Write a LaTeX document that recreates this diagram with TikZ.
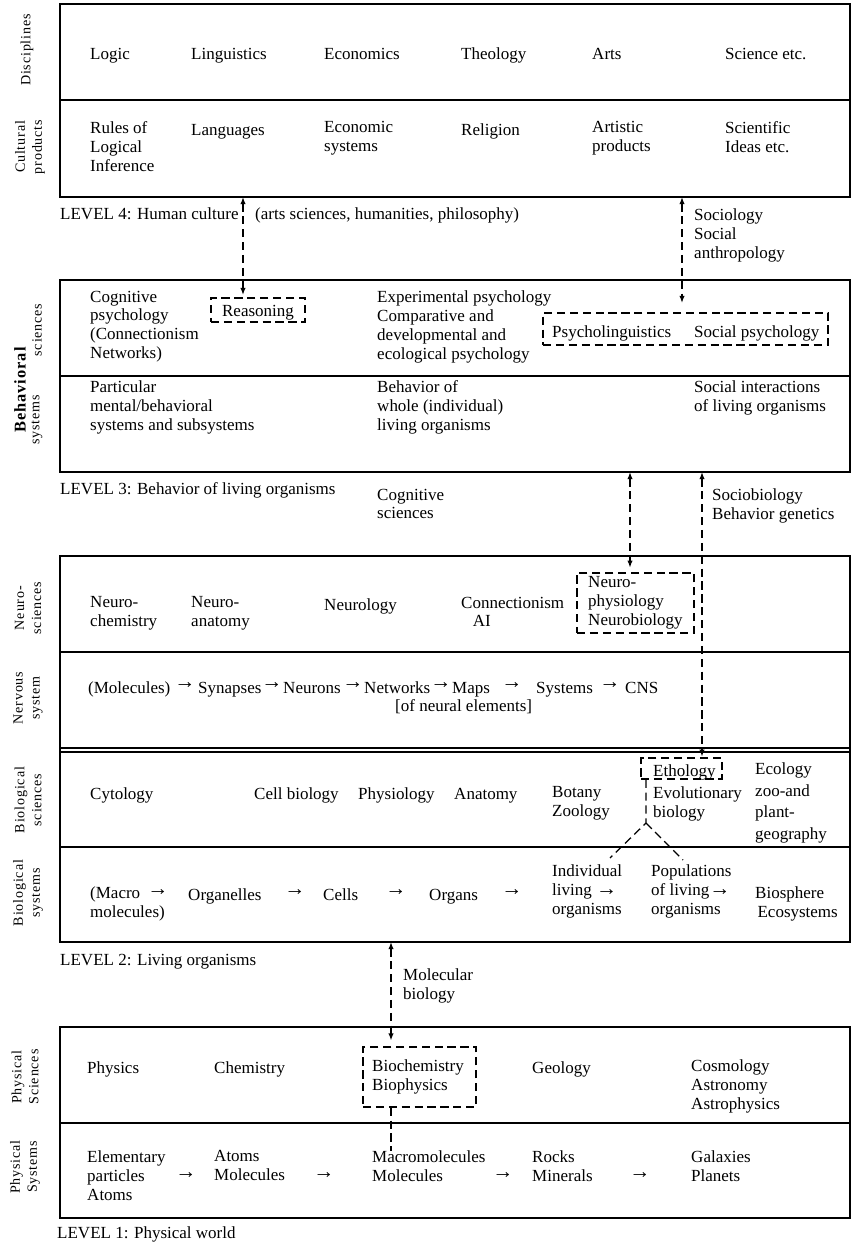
\documentclass[tikz,border=0pt]{standalone}
\usepackage{fontspec}
\setmainfont{Liberation Serif}
\newfontfamily\sidefont[LetterSpace=6]{Liberation Serif}
\usetikzlibrary{arrows.meta,fit}

\newcommand{\rarr}{{\fontsize{18}{16.2}\selectfont →}}

\tikzset{
  txt/.style={anchor=north west, align=left, inner sep=0pt, font=\fontsize{14.5}{16.2}\selectfont,
    execute at begin node={\strut}, yshift=9.8pt},
  side/.style={rotate=90, align=center, inner sep=0pt, font=\sidefont\fontsize{12}{14.5}\selectfont},
  arr/.style={inner sep=0pt, font=\fontsize{18}{16.2}\selectfont},
  frame/.style={line width=1.4pt},
  rule/.style={line width=1.2pt},
  dbox/.style={draw, dash pattern=on 7pt off 4pt, line width=1.1pt, inner sep=0pt},
  link/.style={dash pattern=on 7pt off 4pt, line width=1.1pt, {Latex[length=6pt,width=4.5pt]}-{Latex[length=6pt,width=4.5pt]}},
  dline/.style={dash pattern=on 7pt off 4pt, line width=1.1pt}
}

\begin{document}
\begin{tikzpicture}[x=0.03cm, y=-0.03cm]
	\useasboundingbox (0,0) rectangle (852,1242);
	
	% LEVEL 4
	\draw[frame] (60,4) rectangle (850,197);
	\draw[rule] (60,100) -- (850,100);
	\node[side] (disc) at (27,50) {Disciplines};
	\node[side] (cult) at (30,147) {Cultural\\products};
	\node[txt] (logic) at (90,57) {Logic};
	\node[txt] (ling) at (191,57) {Linguistics};
	\node[txt] (econ) at (324,57) {Economics};
	\node[txt] (theo) at (461,57) {Theology};
	\node[txt] (arts) at (592,57) {Arts};
	\node[txt] (sci) at (725,57) {Science etc.};
	\node[txt] (rules) at (90,133) {Rules of\\Logical\\Inference};
	\node[txt] (lang) at (191,133) {Languages};
	\node[txt] (ecsys) at (324,133) {Economic\\systems};
	\node[txt] (relig) at (461,133) {Religion};
	\node[txt] (artp) at (592,133) {Artistic\\products};
	\node[txt] (scid) at (725,133) {Scientific\\Ideas etc.};
	\node[txt] (lev4) at (60,217) {LEVEL 4: Human culture};
	\node[txt] (hum) at (255,217) {(arts sciences, humanities, philosophy)};
	\node[txt] (socio) at (694,220) {Sociology\\Social\\anthropology};
	
	% LEVEL 3
	\draw[frame] (60,280) rectangle (850,472);
	\draw[rule] (60,376) -- (850,376);
	\node[side, font=\sidefont\bfseries\fontsize{14}{14.5}\selectfont] (beh) at (20,390) {Behavioral};
	\node[side] (bsci) at (37,330) {sciences};
	\node[side] (bsys) at (37,420) {systems};
	\node[txt] (cogp) at (90,302) {Cognitive\\psychology\\(Connectionism\\Networks)};
	\node[txt, anchor=north] (reast) at (258,314) {Reasoning};
	\node[dbox, fit={(211,298) (305,322)}] (reas) {};
	\node[txt] (expp) at (377,302) {Experimental psychology\\Comparative and\\developmental and\\ecological psychology};
	\node[txt] (pling) at (552,335) {Psycholinguistics};
	\node[txt] (socp) at (694,335) {Social psychology};
	\node[dbox, fit={(543,313) (828,345)}] (psy) {};
	\node[txt] (partic) at (90,392) {Particular\\mental/behavioral\\systems and subsystems};
	\node[txt] (whole) at (377,392) {Behavior of\\whole (individual)\\living organisms};
	\node[txt] (socint) at (694,392) {Social interactions\\of living organisms};
	\node[txt] (lev3) at (60,492) {LEVEL 3: Behavior of living organisms};
	\node[txt] (cogs) at (377,500) {Cognitive\\sciences};
	\node[txt] (sbio) at (712,500) {Sociobiology\\Behavior genetics};
	
	% LEVEL 2
	\draw[frame] (60,556) rectangle (850,942);
	\draw[rule] (60,652) -- (850,652);
	\draw[rule] (60,748) -- (850,748);
	\draw[rule] (60,752) -- (850,752);
	\draw[rule] (60,847) -- (850,847);
	\node[side] (neus) at (28,608) {Neuro-\\sciences};
	\node[side] (nerv) at (28,698) {Nervous\\system};
	\node[side] (bios) at (28,800) {Biological\\sciences};
	\node[side] (bisy) at (28,893) {Biological\\systems};
	% neurosciences
	\node[txt] (nchem) at (90,608) {Neuro-\\chemistry};
	\node[txt] (nanat) at (191,608) {Neuro-\\anatomy};
	\node[txt] (nlog) at (324,608) {Neurology};
	\node[txt] (conn) at (461,608) {Connectionism\\\hspace*{10pt}AI};
	\node[txt] (nphys) at (588,588) {Neuro-\\physiology\\Neurobiology};
	\node[dbox, fit={(577,573) (694,633)}] (neu) {};
	% nervous system
	\node[txt] (mol) at (88,691) {(Molecules)};
	\node[arr] (n1) at (185,686) {→};
	\node[txt] (syn) at (198,691) {Synapses};
	\node[arr] (n2) at (272,686) {→};
	\node[txt] (neur) at (283,691) {Neurons};
	\node[arr] (n3) at (353,686) {→};
	\node[txt] (netw) at (364,691) {Networks};
	\node[arr] (n4) at (441,686) {→};
	\node[txt] (maps) at (452,691) {Maps};
	\node[arr] (n5) at (512,686) {→};
	\node[txt] (syst) at (536,691) {Systems};
	\node[arr] (n6) at (610,686) {→};
	\node[txt] (cns) at (625,691) {CNS};
	\node[txt] (neuel) at (395,709) {[of neural elements]};
	% biological sciences
	\node[txt] (cyto) at (90,797) {Cytology};
	\node[txt] (cellb) at (254,797) {Cell biology};
	\node[txt] (physl) at (358,797) {Physiology};
	\node[txt] (anat) at (454,797) {Anatomy};
	\node[txt] (botz) at (552,798) {Botany\\Zoology};
	\node[txt] (etht) at (653,774) {Ethology};
	\node[dbox, fit={(641,758) (722,779)}] (eth) {};
	\node[txt] (evol) at (653,798) {Evolutionary\\biology};
	\node[txt, font=\fontsize{14.5}{18.5}\selectfont] (ecol) at (755,774) {Ecology\\zoo-and\\plant-\\geography};
	% biological systems
	\node[txt] (macm) at (90,898) {(Macro\\molecules)};
	\node[arr] (b1) at (158,893) {→};
	\node[txt] (orgl) at (188,898) {Organelles};
	\node[arr] (b2) at (295,893) {→};
	\node[txt] (cells) at (323,898) {Cells};
	\node[arr] (b3) at (396,893) {→};
	\node[txt] (organs) at (429,898) {Organs};
	\node[arr] (b4) at (512,893) {→};
	\node[txt] (indiv) at (552,876) {Individual\\living \rarr\\organisms};
	\node[txt] (popul) at (651,876) {Populations\\of living\rarr\\organisms};
	\node[txt] (biosph) at (755,898) {Biosphere\\\hspace*{2pt}Ecosystems};
	\node[txt] (lev2) at (60,963) {LEVEL 2: Living organisms};
	\node[txt] (molb) at (403,980) {Molecular\\biology};
	
	% LEVEL 1
	\draw[frame] (60,1027) rectangle (850,1218);
	\draw[rule] (60,1123) -- (850,1123);
	\node[side] (phsc) at (25,1077) {Physical\\Sciences};
	\node[side] (phsy) at (25,1167) {Physical\\Systems};
	\node[txt] (phys) at (87,1071) {Physics};
	\node[txt] (chem) at (214,1071) {Chemistry};
	\node[txt] (bioct) at (372,1071) {Biochemistry\\Biophysics};
	\node[dbox, fit={(363,1047) (476,1107)}] (bioc) {};
	\node[txt] (geol) at (532,1071) {Geology};
	\node[txt] (cosm) at (691,1071) {Cosmology\\Astronomy\\Astrophysics};
	\node[txt] (elem) at (87,1162) {Elementary\\particles\\Atoms};
	\node[arr] (p1) at (186,1175) {→};
	\node[txt] (atom) at (214,1162) {Atoms\\Molecules};
	\node[arr] (p2) at (324,1175) {→};
	\node[txt] (macro) at (372,1162) {Macromolecules\\Molecules};
	\node[arr] (p3) at (503,1175) {→};
	\node[txt] (rock) at (532,1162) {Rocks\\Minerals};
	\node[arr] (p4) at (640,1175) {→};
	\node[txt] (galx) at (691,1162) {Galaxies\\Planets};
	\node[txt] (lev1) at (57,1236) {LEVEL 1: Physical world};
	
	% links between the levels
	\coordinate (c4l) at (243,197);
	\coordinate (c4r) at (682,197);
	\coordinate (c3l) at (630,472);
	\coordinate (c3r) at (702,472);
	\coordinate (c2) at (391,942);
	\draw[link, shorten >=2pt] (c4l) -- (c4l |- reas.north);
	\draw[link, shorten >=8pt] (c4r) -- (c4r |- psy.north);
	\draw[link, shorten >=4pt] (c3l) -- (c3l |- neu.north);
	\draw[link, shorten >=0.5pt] (c3r) -- (c3r |- eth.north);
	\draw[link, shorten >=5pt] (c2) -- (c2 |- bioc.north);
	\draw[dline] (c2 |- bioc.south) -- (c2 |- macro.north);
	
	% ethology fork
	\coordinate (fork) at (646,823);
	\coordinate (fl) at (610,858);
	\coordinate (fr) at (683,860);
	\draw[dline] (fork |- eth.south) -- (fork) -- (fl);
	\draw[dline] (fork) -- (fr);
	
\end{tikzpicture}
\end{document}
